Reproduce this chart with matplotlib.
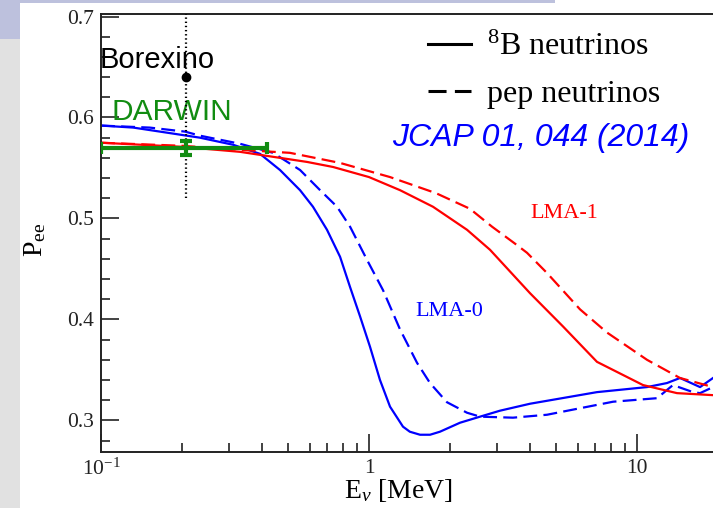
import matplotlib
matplotlib.use("Agg")
import matplotlib.pyplot as plt
from matplotlib.patches import Rectangle
from matplotlib.lines import Line2D
from matplotlib.ticker import FixedLocator, NullFormatter

plt.rcParams["mathtext.fontset"] = "custom"
plt.rcParams["mathtext.rm"] = "Liberation Serif"
plt.rcParams["mathtext.it"] = "Liberation Serif:italic"
plt.rcParams["lines.scale_dashes"] = False

SERIF = "Liberation Serif"
SANS = "Liberation Sans"

# Survival probability P_ee vs neutrino energy (MeV)
b8_lma0_E = [0.1, 0.132, 0.176, 0.234, 0.311, 0.392, 0.4655, 0.553, 0.618, 0.697,
             0.78, 0.85, 0.926, 1.0085, 1.099, 1.198, 1.339, 1.42, 1.55, 1.69, 1.84,
             2.186, 2.596, 3.08, 3.988, 7.09, 10.9, 12.94, 14.47, 17.19, 19.22]
b8_lma0_P = [0.592, 0.590, 0.585, 0.580, 0.573, 0.564, 0.548, 0.528, 0.5116, 0.4888,
             0.462, 0.432, 0.403, 0.373, 0.340, 0.3136, 0.2938, 0.2888, 0.2858, 0.2858,
             0.2888, 0.2977, 0.3037, 0.3096, 0.3165, 0.328, 0.333, 0.337, 0.342, 0.333,
             0.342]

pep_lma0_E = [0.1, 0.152, 0.206, 0.234, 0.33, 0.4385, 0.553, 0.657, 0.76, 0.85,
              0.983, 1.128, 1.306, 1.511, 1.689, 1.954, 2.321, 2.596, 3.445, 4.615,
              8.14, 11.88, 13.62, 16.18, 17.19, 19.22]
pep_lma0_P = [0.592, 0.590, 0.586, 0.582, 0.574, 0.565, 0.548, 0.528, 0.5116, 0.4918,
              0.459, 0.429, 0.390, 0.357, 0.337, 0.318, 0.3076, 0.3037, 0.3027, 0.3056,
              0.3185, 0.322, 0.335, 0.328, 0.327, 0.333]

b8_lma1_E = [0.1, 0.2, 0.33, 0.587, 0.734, 1.0, 1.306, 1.733, 2.321, 2.828,
             3.988, 5.297, 7.09, 10.53, 14.1, 19.22]
b8_lma1_P = [0.575, 0.571, 0.566, 0.556, 0.551, 0.541, 0.528, 0.5116, 0.4888, 0.469,
             0.426, 0.393, 0.358, 0.335, 0.327, 0.325]

pep_lma1_E = [0.1, 0.2, 0.33, 0.507, 0.78, 1.198, 1.78, 2.38, 2.88, 3.55,
              3.887, 4.615, 6.128, 7.73, 10.9, 14.47, 19.22]
pep_lma1_P = [0.575, 0.572, 0.568, 0.565, 0.555, 0.541, 0.525, 0.5096, 0.4918, 0.474,
              0.466, 0.446, 0.410, 0.387, 0.360, 0.342, 0.333]

# Borexino pp measurement and DARWIN projection
borexino_E, borexino_P, borexino_err = 0.207, 0.64, 0.12
darwin_E, darwin_P, darwin_err = 0.207, 0.570, 0.007
darwin_Emin, darwin_Emax = 0.1, 0.416

x_major = [0.1, 1, 10]
x_major_labels = [r"$10^{-1}$", "1", "10"]
y_major = [0.3, 0.4, 0.5, 0.6, 0.7]

W, H = 713, 508
fig = plt.figure(figsize=(W / 100, H / 100), dpi=100)
fig.patch.set_facecolor("white")

# slide decorations
lav = "#bdc1dd"
fig.patches.append(Rectangle((0, 1 - 39 / H), 20 / W, 39 / H, transform=fig.transFigure,
                             facecolor=lav, edgecolor="none", zorder=0))
fig.patches.append(Rectangle((0, 0), 20 / W, 1 - 39 / H, transform=fig.transFigure,
                             facecolor="#e1e1e1", edgecolor="none", zorder=0))
fig.patches.append(Rectangle((20 / W, 1 - 3 / H), 535 / W, 3 / H, transform=fig.transFigure,
                             facecolor=lav, edgecolor="none", zorder=0))

left_px, bottom_px, top_px = 101, 451.7, 13.5
width_px = 268 * 2.30103
height_px = bottom_px - top_px
ax = fig.add_axes([left_px / W, (H - bottom_px) / H, width_px / W, height_px / H])
ax.set_xscale("log")
ax.set_xlim(0.1, 20)
ax.set_ylim(0.269, 0.703)


def ax_x(px):
    return (px - left_px) / width_px


def ax_y(py):
    return (bottom_px - py) / height_px


lw = 1.6
dash = (0, (10, 4.5))
ax.plot(b8_lma0_E, b8_lma0_P, color="#0000ff", lw=lw)
ax.plot(pep_lma0_E, pep_lma0_P, color="#0000ff", lw=lw, linestyle=dash)
ax.plot(b8_lma1_E, b8_lma1_P, color="#ff0000", lw=lw)
ax.plot(pep_lma1_E, pep_lma1_P, color="#ff0000", lw=lw, linestyle=dash)

eb = ax.errorbar([borexino_E], [borexino_P], yerr=[borexino_err], fmt="o", color="black",
                 ms=6, elinewidth=1.6, capsize=0, zorder=5)
eb[2][0].set_linestyle((0, (1, 2)))

green = "#118c11"
ax.errorbar([darwin_E], [darwin_P],
            xerr=[[darwin_E - darwin_Emin], [darwin_Emax - darwin_E]],
            yerr=[darwin_err], fmt="none", ecolor=green, elinewidth=3, capsize=4,
            capthick=3, zorder=6)

# axes styling
for s in ax.spines.values():
    s.set_linewidth(1.4)
    s.set_color("#222222")
ax.xaxis.set_major_locator(FixedLocator(x_major))
ax.set_xticklabels(x_major_labels)
minors = [m * d for d in (0.1, 1, 10) for m in range(2, 10)]
ax.xaxis.set_minor_locator(FixedLocator(minors))
ax.xaxis.set_minor_formatter(NullFormatter())
ax.yaxis.set_major_locator(FixedLocator(y_major))
ax.set_yticklabels([f"{v:.1f}" for v in y_major])
ax.yaxis.set_minor_locator(FixedLocator([0.28 + 0.02 * i for i in range(22)]))
ax.tick_params(which="both", direction="in", colors="#222222", width=1.2, top=False, right=False)
ax.tick_params(which="major", length=13, labelsize=15.5, pad=5)
ax.tick_params(which="minor", length=6.5)
for lab in ax.get_xticklabels() + ax.get_yticklabels():
    lab.set_fontfamily(SERIF)

ax.set_xlabel(r"E$_{\nu}$ [MeV]", fontsize=20, fontfamily=SERIF)
ax.xaxis.label.set_va("center")
ax.xaxis.set_label_coords(ax_x(398), ax_y(490))
ax.set_ylabel(r"P$_{\mathrm{ee}}$", fontsize=20, fontfamily=SERIF)
ax.yaxis.label.set_va("center")
ax.yaxis.set_label_coords(ax_x(35), ax_y(240))

# annotations
ax.text(ax_x(100), ax_y(60), "Borexino", transform=ax.transAxes, fontsize=21,
        fontfamily=SANS, color="black", ha="left", va="center")
ax.text(ax_x(112), ax_y(112), "DARWIN", transform=ax.transAxes, fontsize=21.5,
        fontfamily=SANS, color=green, ha="left", va="center")
ax.text(ax_x(392), ax_y(138), "JCAP 01, 044 (2014)", transform=ax.transAxes,
        fontsize=23, fontfamily=SANS, style="italic", color="#0000ff", ha="left", va="center")
ax.text(ax_x(530), ax_y(213), "LMA-1", transform=ax.transAxes, fontsize=16,
        fontfamily=SERIF, color="#ff0000", ha="left", va="center")
ax.text(ax_x(415), ax_y(312), "LMA-0", transform=ax.transAxes, fontsize=16,
        fontfamily=SERIF, color="#0000ff", ha="left", va="center")

handles = [Line2D([], [], color="black", lw=2.2),
           Line2D([], [], color="black", lw=2.2, linestyle=(0, (13, 6)))]
fig.legend(handles, [r"$^{8}$B neutrinos", "pep neutrinos"],
           loc="upper left", bbox_to_anchor=(428 / W, 1 - 33 / H),
           frameon=False, prop={"family": SERIF, "size": 23},
           handlelength=1.35, handletextpad=0.5, labelspacing=0.55, borderpad=0,
           borderaxespad=0)

fig.savefig("out.png", dpi=100, facecolor=fig.get_facecolor())
